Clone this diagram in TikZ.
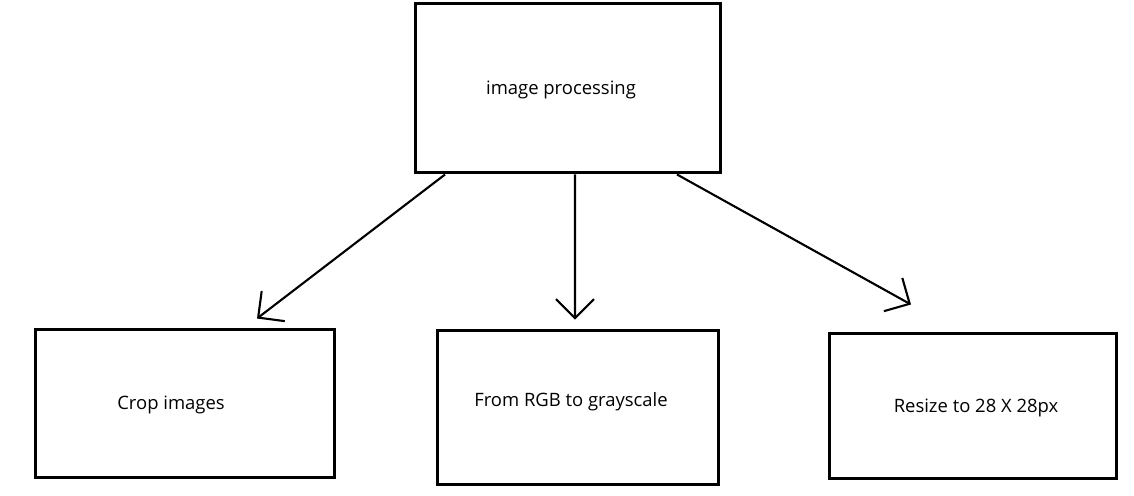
\documentclass[tikz,border=0pt]{standalone}
\usepackage{fontspec}
\setmainfont{Open Sans}
\usetikzlibrary{arrows.meta}

\begin{document}
\begin{tikzpicture}[
x = 0.02cm, y = -0.02cm,
every label/.style = {font=\fontsize{10.5}{12}\selectfont, inner sep=0pt},
every edge/.style = {draw, -{Straight Barb[length=0.38cm, width=0.76cm]}, line width=1.2pt, black},
       box/.style = {draw, line width=1.7pt, inner sep=0pt}
                    ]
\useasboundingbox (0,0) rectangle (1134,496);

% the texts sit a little off the box centres
\node (proc)   [box, minimum width=6.12cm, minimum height=3.40cm,
                label={[xshift=-0.14cm, yshift=-0.04cm]center:image processing}]      at (568,88)    {};
\node (crop)   [box, minimum width=6.00cm, minimum height=2.98cm,
                label={[xshift=-0.28cm, yshift=-0.03cm]center:Crop images}]           at (185,403.5) {};
\node (gray)   [box, minimum width=5.64cm, minimum height=3.10cm,
                label={[xshift=-0.14cm, yshift=0.11cm]center:From RGB to grayscale}] at (578,407.5) {};
\node (resize) [box, minimum width=5.76cm, minimum height=2.92cm,
                label={[xshift=0.06cm, yshift=-0.04cm]center:Resize to 28 X 28px}]    at (973,406)   {};

% arrow tips stop short of the boxes
\coordinate (tip-crop)   at ([xshift=1.44cm, yshift=0.18cm]crop.north);
\coordinate (tip-gray)   at ([xshift=-0.06cm, yshift=0.18cm]gray.north);
\coordinate (tip-resize) at ([xshift=-1.24cm, yshift=0.54cm]resize.north);

\draw   ([xshift=-2.46cm]proc.south) edge (tip-crop)
        ([xshift=0.14cm]proc.south)  edge (tip-gray)
        ([xshift=2.18cm]proc.south)  edge (tip-resize);
\end{tikzpicture}
\end{document}
